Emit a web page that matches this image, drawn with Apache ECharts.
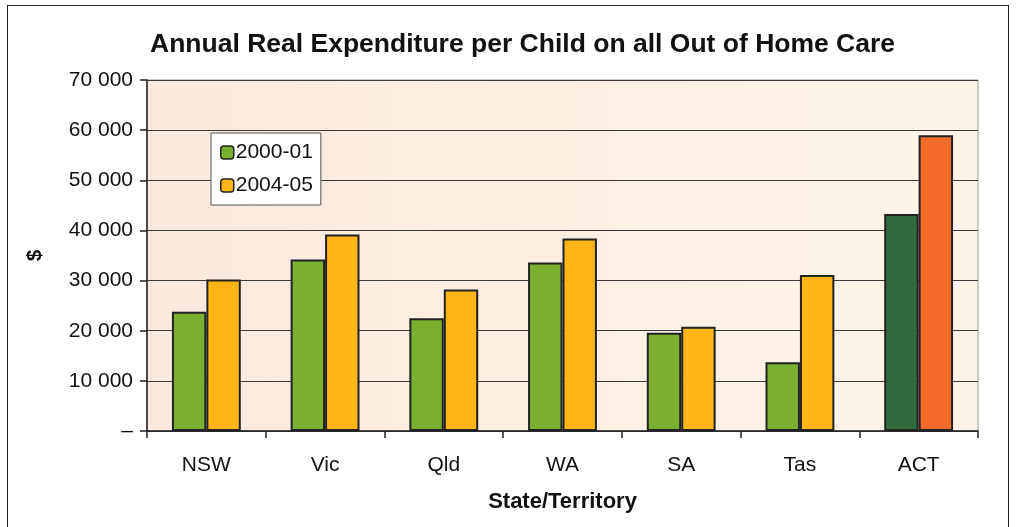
<!DOCTYPE html>
<html>
<head>
<meta charset="utf-8">
<script src="https://cdn.jsdelivr.net/npm/echarts@6/dist/echarts.min.js"></script>
<style>
  html, body { margin: 0; padding: 0; background: #ffffff; }
  #frame { position: absolute; left: 7px; top: 5px; width: 1002px; height: 540px; border: 1.5px solid #222; box-sizing: border-box; }
  #chart { position: absolute; left: 0; top: 0; width: 1018px; height: 527px; }
</style>
</head>
<body>
<div id="frame"></div>
<div id="chart"></div>
<script>
// Annual real expenditure per child, by state/territory
const categories = ['NSW', 'Vic', 'Qld', 'WA', 'SA', 'Tas', 'ACT'];
const spend2000 = [23800, 34200, 22500, 33600, 19600, 13700, 43300];
const spend2004 = [30200, 39200, 28200, 38400, 20800, 31100, 59000];
const seriesNames = ['2000-01', '2004-05'];
const yTicks = [0, 10000, 20000, 30000, 40000, 50000, 60000, 70000];

// ACT bars are drawn in a darker/stronger shade
const green = '#7aaf30', greenDark = '#316a3d';
const orange = '#fdb517', orangeDark = '#f26b2b';

function fmt(v) {
  if (v === 0) return '\u2013';
  return String(v).replace(/\B(?=(\d{3})+(?!\d))/g, ' ');
}

function barData(values, base, highlight) {
  return values.map((v, i) => ({
    value: v,
    itemStyle: { color: categories[i] === 'ACT' ? highlight : base }
  }));
}

const chart = echarts.init(document.getElementById('chart'), null, { renderer: 'canvas' });
const font = 'Liberation Sans, Arial, sans-serif';

chart.setOption({
  animation: false,
  textStyle: { fontFamily: font },
  title: {
    text: 'Annual Real Expenditure per Child on all Out of Home Care',
    left: 145,
    top: 26,
    textStyle: { fontSize: 26.5, fontWeight: 'bold', color: '#111', fontFamily: font }
  },
  legend: {
    data: seriesNames,
    orient: 'vertical',
    left: 211,
    top: 133,
    itemWidth: 13,
    itemHeight: 13,
    itemGap: 12,
    padding: [9, 8, 9, 9],
    backgroundColor: '#ffffff',
    borderColor: '#555',
    borderWidth: 1,
    textStyle: { fontSize: 21, color: '#111', fontFamily: font, padding: [0, 0, 0, -3] },
    itemStyle: { borderColor: '#222', borderWidth: 1.5 }
  },
  grid: {
    left: 147, right: 40, top: 80, bottom: 96,
    show: true,
    backgroundColor: new echarts.graphic.LinearGradient(0, 0, 1, 0, [
      { offset: 0, color: '#f9e9de' },
      { offset: 1, color: '#fdf5ea' }
    ]),
    borderColor: '#999',
    borderWidth: 1
  },
  xAxis: {
    type: 'category',
    data: categories,
    name: 'State/Territory',
    nameLocation: 'middle',
    nameGap: 60,
    nameTextStyle: { fontSize: 22, fontWeight: 'bold', color: '#111', fontFamily: font },
    axisLine: { lineStyle: { color: '#222', width: 1.5 } },
    axisTick: { show: true, length: 7, lineStyle: { color: '#222', width: 1.5 } },
    axisLabel: { fontSize: 21, color: '#111', margin: 24, fontFamily: font }
  },
  yAxis: {
    type: 'value',
    min: 0,
    max: 70000,
    interval: 10000,
    name: '$',
    nameLocation: 'middle',
    nameGap: 101,
    nameRotate: 90,
    nameTextStyle: { fontSize: 21, fontWeight: 'bold', color: '#111', fontFamily: font },
    axisLine: { show: true, lineStyle: { color: '#222', width: 1.5 } },
    axisTick: { show: true, length: 7, lineStyle: { color: '#222', width: 1.5 } },
    axisLabel: {
      fontSize: 21, color: '#111', margin: 14, fontFamily: font,
      formatter: v => (yTicks.includes(v) ? fmt(v) : '')
    },
    splitLine: { show: true, lineStyle: { color: '#3a3a3a', width: 1.2 } }
  },
  series: [
    {
      name: seriesNames[0],
      type: 'bar',
      data: barData(spend2000, green, greenDark),
      itemStyle: { color: green, borderColor: '#222', borderWidth: 2 },
      barGap: '0%',
      barCategoryGap: '42%'
    },
    {
      name: seriesNames[1],
      type: 'bar',
      data: barData(spend2004, orange, orangeDark),
      itemStyle: { color: orange, borderColor: '#222', borderWidth: 2 },
      barGap: '0%',
      barCategoryGap: '42%'
    }
  ]
});
</script>
</body>
</html>
